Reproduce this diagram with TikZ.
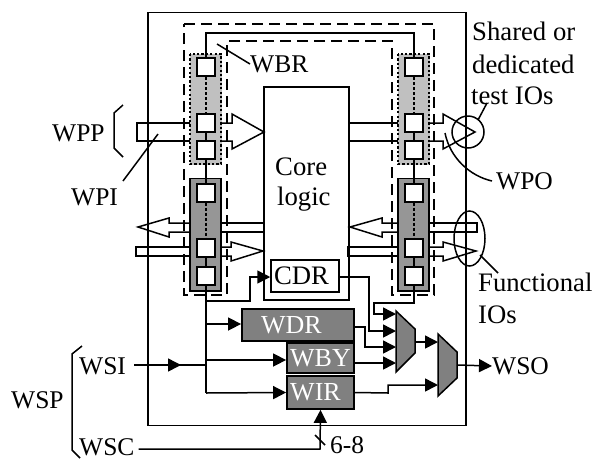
\documentclass[tikz,border=0pt]{standalone}
\usepackage{fontspec}
\setmainfont{Liberation Serif}
\usepackage{xcolor}
\usetikzlibrary{arrows.meta}
\definecolor{graylight}{HTML}{C0C0C0}
\definecolor{graydark}{HTML}{969696}
\definecolor{grayreg}{HTML}{808080}
\tikzset{
  wire/.style={line width=1.5pt},
  feed/.style={wire,-{Triangle[length=13pt,width=13pt]}},
  dashbox/.style={line width=2.3pt,dash pattern=on 11pt off 6pt},
  cell/.style={draw,fill=white,line width=2pt,minimum width=18.5pt,minimum height=18pt,inner sep=0pt},
  reg/.style={draw,fill=grayreg,line width=1.8pt,text=white,inner sep=0pt,font=\fontsize{26}{28}\selectfont},
  mux/.style={draw,fill=grayreg,line width=1.5pt},
  tag/.style={inner sep=0pt},
  word/.style={tag,anchor=west,font=\fontsize{26.7}{30}\selectfont}}

\begin{document}
\begin{tikzpicture}[x=1pt,y=-1pt,font=\fontsize{25.5}{28}\selectfont]
  \useasboundingbox (0,0) rectangle (595,459);
  % chip outline and core
  \draw[line width=1.3pt] (148,12.5) rectangle (466,425.5);
  \draw[wire] (264,87) rectangle (349,300);
  % dashed wrapper boundary
  \draw[dashbox] (184,24)--(434,24)--(434,295)--(392,295)--(392,41)--(227,41)--(227,295)--(184,295)--cycle;
  % boundary cell groups
  \draw[graylight,fill=graylight] (190,54) rectangle (221,164);
  \draw[graylight,fill=graylight] (398,54) rectangle (429,164);
  \draw[line width=2.2pt,dash pattern=on 2.2pt off 2.2pt] (190,54) rectangle (221,164);
  \draw[line width=2.2pt,dash pattern=on 2.2pt off 2.2pt] (398,54) rectangle (429,164);
  \draw[fill=graydark,line width=1.7pt] (190,178.5) rectangle (221,291);
  \draw[fill=graydark,line width=1.7pt] (398,178.5) rectangle (429,291);
  \foreach \n/\x in {l/206,r/414} {
    \node[cell] (\n a) at (\x,67) {};
    \node[cell] (\n b) at (\x,122.5) {};
    \node[cell] (\n c) at (\x,150) {};
    \node[cell] (\n d) at (\x,192.5) {};
    \node[cell] (\n e) at (\x,248) {};
    \node[cell] (\n f) at (\x,275.5) {};
    \draw[line width=2pt,dash pattern=on 3pt off 2pt] (\n a)--(\n b);
    \draw[line width=2pt,dash pattern=on 3pt off 2pt] (\n d)--(\n e);
    \draw[wire] (\n b)--(\n c) (\n c)--(\n d) (\n e)--(\n f);
  }
  \draw[wire] (la.north)--(206,33)--(414,33)--(ra.north);
  % wide buses, in and out of the core
  \draw[wire] (190,123)--(137,123)--(137,141)--(190,141);
  \draw[wire] (221,123)--(232,123)--(232,114)--(264,132)--(232,149)--(232,141)--(221,141);
  \draw[wire] (398,123)--(349,123)--(349,141)--(398,141);
  \draw[wire] (429,123)--(443,123)--(443,114)--(475,132)--(443,149)--(443,141)--(429,141);
  \draw[wire] (190,223)--(169,223)--(169,218)--(138,227)--(169,237)--(169,232)--(190,232);
  \draw[wire] (221,223)--(264,223)--(264,232)--(221,232);
  \draw[wire] (398,223)--(382,223)--(382,218)--(350,227)--(382,237)--(382,232)--(398,232);
  \draw[wire] (429,223)--(477,223)--(477,232)--(429,232);
  \draw[wire] (190,247)--(136,247)--(136,256)--(190,256);
  \draw[wire] (221,247)--(231,247)--(231,242)--(263,251)--(231,261)--(231,256)--(221,256);
  \draw[wire] (398,247)--(348,247)--(348,256)--(398,256);
  \draw[wire] (429,247)--(443,247)--(443,242)--(476,251)--(443,261)--(443,256)--(429,256);
  % labels with their pointers
  \node[tag,anchor=west] (wbr) at (250,64) {WBR};
  \draw[wire] (217,44)--(wbr.west);
  \node[tag,anchor=west] (wpp) at (52,133) {WPP};
  \draw[wire] (123,105)--(114,113)--(114,148)--(123,157);
  \node[tag,anchor=west] (wpi) at (71,197) {WPI};
  \draw[wire] (123,181)--(158,134);
  \node[word] (shared) at (472,31) {Shared or};
  \node[word] (dedicated) at (472,64) {dedicated};
  \node[word] (testio) at (471,96) {test IOs};
  \draw[wire] (468,132) circle (16pt);
  \draw[wire] (478,120)--(487,103);
  \node[tag,anchor=west] (wpo) at (496,181) {WPO};
  \draw[wire] (445,133) .. controls (450,158) and (470,176) .. (492,181);
  \draw[wire] (469.5,238.5) ellipse (15.5pt and 27.5pt);
  \draw[wire] (480,255)--(498,273);
  \node[word] (func) at (478,282) {Functional};
  \node[word] (funcio) at (478,315) {IOs};
  \node[word] (core) at (275,167) {Core};
  \node[word] (logic) at (277,199) {logic};
  % registers
  \node[draw,fill=white,line width=1.5pt,minimum width=68pt,minimum height=32pt,inner sep=0pt,font=\fontsize{26.7}{30}\selectfont] (cdr) at (305,276) {\hspace*{-7pt}CDR};
  \node[reg,minimum width=112pt,minimum height=32pt] (wdr) at (298,325) {\hspace*{-13pt}WDR};
  \node[reg,minimum width=67pt,minimum height=30pt] (wby) at (320.5,358) {WBY};
  \node[reg,minimum width=67pt,minimum height=33pt] (wir) at (320.5,392.5) {\hspace*{-10pt}WIR};
  % muxes
  \draw[mux] (396,311)--(415,329)--(415,353)--(396,372)--cycle;
  \draw[mux] (438,334)--(457,352)--(457,378)--(438,396)--cycle;
  % scan path
  \node[tag,anchor=west] (wsi) at (79,366) {WSI};
  \node[tag,anchor=west] (wsc) at (79,447) {WSC};
  \node[tag,anchor=west] (wso) at (492,366) {WSO};
  \node[tag,anchor=west] (wsp) at (11,400) {WSP};
  \node[tag,anchor=west] (buswidth) at (330,445) {6-8};
  \coordinate (wsijoin) at (206,365);
  \coordinate (wsiarrow) at (181,365);
  \draw[wire] (82,346)--(72,354)--(72,450)--(80,458);
  \draw[wire,shorten <=8pt] ([yshift=1pt]wsi.east)--(wsijoin);
  \draw[feed,shorten <=8pt] ([yshift=1pt]wsi.east)--(wsiarrow);
  \draw[wire] (lf.south)--(206,393);
  \draw[feed] (206,324)--([yshift=1pt]wdr.west);
  \draw[feed] (206,360)--([yshift=-2pt]wby.west);
  \draw[feed] (206,393)--(wir.west);
  \draw[feed] (206,301)--(250,301)--(250,277)--([yshift=-1pt]cdr.west);
  \draw[feed,shorten <=4pt] ([yshift=-2pt]wsc.east)--(320,449)--(wir.south);
  \draw[wire] (315,435)--(325,445);
  \draw[feed] (rf.south)--(414,303)--(374,303)--(374,314)--(396,314);
  \draw[feed] ([yshift=-1pt]cdr.east)--(369,277)--(369,331)--(396,331);
  \draw[feed] ([yshift=-2pt]wdr.east)--(365,327)--(365,347)--(396,347);
  \draw[feed] ([yshift=-5pt]wby.east)--(396,363);
  \draw[feed] (wir.east)--(388,393)--(388,385)--(438,385);
  \draw[feed] (415,342)--(438,342);
  \draw[feed] (457,365)--(wso.west);
\end{tikzpicture}
\end{document}
